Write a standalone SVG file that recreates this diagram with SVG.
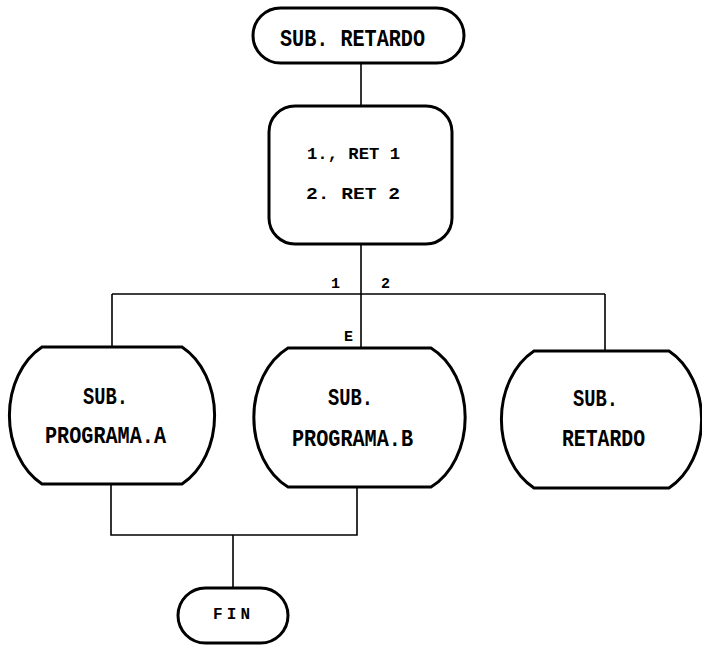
<svg xmlns="http://www.w3.org/2000/svg" width="702" height="647" viewBox="0 0 702 647">
  <style>
    .node { fill: #fff; stroke: #000; stroke-width: 3; }
    .wire { fill: none; stroke: #000; stroke-width: 1.6; }
    .t { font-family: "Liberation Mono", "DejaVu Sans Mono", monospace; font-weight: bold; fill: #000; text-anchor: start; }
    .big { font-size: 23px; }
    .mid { font-size: 16px; }
    .lbl { font-size: 15px; }
  </style>
  <rect width="702" height="647" fill="#fff"/>

  <g id="connectors">
    <path class="wire" d="M361 63 V106"/>
    <path class="wire" d="M361 244 V348"/>
    <path class="wire" d="M112 294 H605"/>
    <path class="wire" d="M112 294 V347"/>
    <path class="wire" d="M605 294 V351"/>
    <path class="wire" d="M111 484 V535 H357 V487"/>
    <path class="wire" d="M233 535 V588"/>
    <text class="t lbl" x="331" y="288">1</text>
    <text class="t lbl" x="381" y="288">2</text>
    <text class="t lbl" x="344" y="341">E</text>
  </g>

  <g id="start">
    <rect class="node" x="253" y="8" width="211" height="55" rx="27.5"/>
    <text class="t big" x="280" y="46" textLength="145" lengthAdjust="spacingAndGlyphs">SUB. RETARDO</text>
  </g>

  <g id="choice">
    <rect class="node" x="269" y="106" width="183" height="138" rx="26"/>
    <text class="t mid" x="307" y="159" textLength="93" lengthAdjust="spacingAndGlyphs">1., RET 1</text>
    <text class="t mid" x="306" y="199" textLength="94" lengthAdjust="spacingAndGlyphs">2. RET 2</text>
  </g>

  <g id="prog-a">
    <path class="node" d="M42 347 H182 A60 77 0 0 1 182 484 H42 A60 77 0 0 1 42 347 Z"/>
    <text class="t big" x="83" y="404" textLength="45" lengthAdjust="spacingAndGlyphs">SUB.</text>
    <text class="t big" x="45" y="443" textLength="121" lengthAdjust="spacingAndGlyphs">PROGRAMA.A</text>
  </g>

  <g id="prog-b">
    <path class="node" d="M288 348 H431 A60 77 0 0 1 431 487 H288 A60 77 0 0 1 288 348 Z"/>
    <text class="t big" x="328" y="405" textLength="45" lengthAdjust="spacingAndGlyphs">SUB.</text>
    <text class="t big" x="292" y="446" textLength="121" lengthAdjust="spacingAndGlyphs">PROGRAMA.B</text>
  </g>

  <g id="retardo">
    <path class="node" d="M534 351 H669 A60 77 0 0 1 669 488 H534 A60 77 0 0 1 534 351 Z"/>
    <text class="t big" x="573" y="406" textLength="45" lengthAdjust="spacingAndGlyphs">SUB.</text>
    <text class="t big" x="562" y="446" textLength="83" lengthAdjust="spacingAndGlyphs">RETARDO</text>
  </g>

  <g id="fin">
    <rect class="node" x="178" y="588" width="110" height="55" rx="27.5"/>
    <text class="t mid" x="213" y="619" textLength="37" lengthAdjust="spacing">FIN</text>
  </g>
</svg>
